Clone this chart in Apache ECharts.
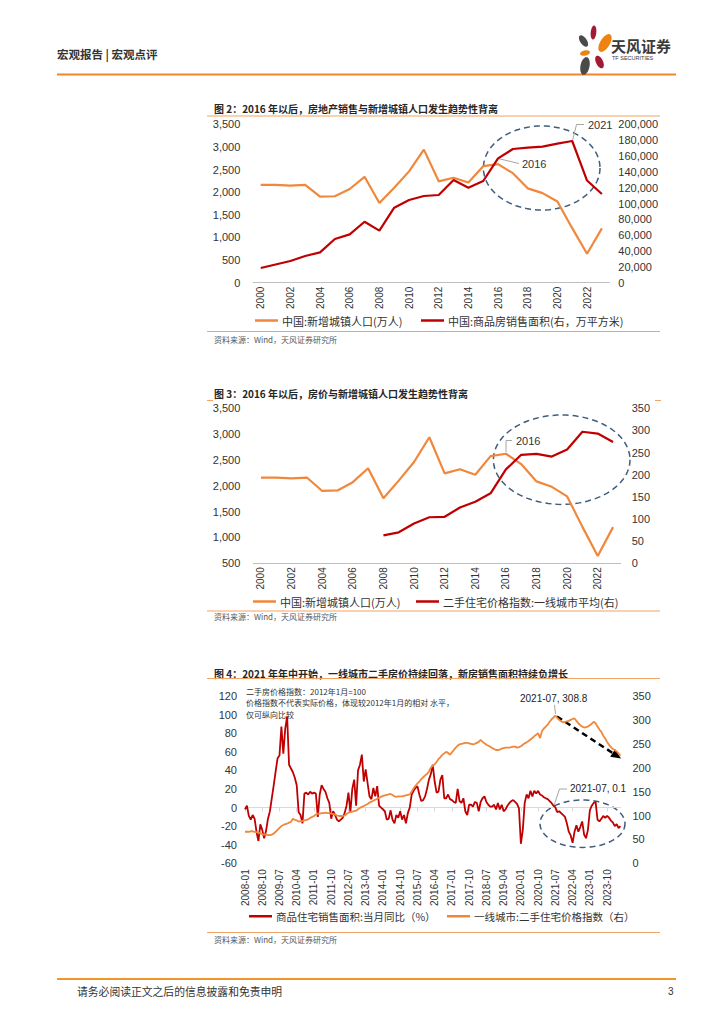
<!DOCTYPE html>
<html>
<head>
<meta charset="utf-8">
<script src="https://cdn.jsdelivr.net/npm/echarts/dist/echarts.min.js"></script>
<style>
html,body{margin:0;padding:0;background:#fff;}
#main{width:724px;height:1024px;}
</style>
</head>
<body>
<div id="main"></div>
<script>
// ---------------- DATA ----------------
const years = ['2000','2001','2002','2003','2004','2005','2006','2007','2008','2009','2010','2011',
               '2012','2013','2014','2015','2016','2017','2018','2019','2020','2021','2022','2023'];
// 中国:新增城镇人口(万人)
const newUrbanPop = [2160,2160,2145,2160,1900,1910,2070,2340,1760,2100,2460,2940,
                     2240,2320,2215,2575,2620,2420,2085,1980,1795,1205,640,1200];
// 中国:商品房销售面积(万平方米)
const salesArea = [18500,23000,27400,33700,38300,55200,61000,77000,65700,94700,104400,109500,
                   110700,129700,120000,128400,157000,168800,170500,171800,175600,178900,129000,112000];
// 二手住宅价格指数:一线城市平均 (annual)
const priceIndexAnnual = [null,null,null,null,null,null,null,null,63,70,90,104,
                          105,126,139,158,212,245,247,241,257,297,293,274];

// monthly 2008-01 .. 2024-05
const monthLabels = [];
for (let y = 2008; y <= 2024; y++) {
  for (let m = 1; m <= 12; m++) {
    if (y === 2024 && m > 5) break;
    monthLabels.push(y + '-' + (m < 10 ? '0' + m : m));
  }
}
// 商品住宅销售面积:当月同比(%)
const salesYoY = [
  -2, 2, -9, -13, -8, -12, -26, -36, -18, -24, -33, -25,      // 2008
  -12, -4, 10, 24, 39, 53, 56, 87, 58, 85, 98, 46,            // 2009
  42, 38, 32, 24, -5, -8, -17, 15, 16, 14, 17, 15,            // 2010
  16, 15, -10, 14, 24, 20, 17, 10, 5, -12, -4, -8,            // 2011
  -13, -15, -13, -11, -6, 2, 16, -5, 20, 30, 2, 40,           // 2012
  46, 57, 28, 41, 26, 12, 9, 21, 12, 23, 2, 0,                // 2013
  -2, -4, -13, -12, -3, -13, -17, -8, -11, -4, -13, -8,       // 2014
  -17, -6, 0, 14, 18, 21, 23, 14, 7, 8, 12, 20,               // 2015
  30, 36, 46, 28, 16, 17, 30, 35, 10, 10, 14, 9,              // 2016
  8, 6, 5, 20, 7, 5, 10, -4, -8, 3, 3, 1,                     // 2017
  6, 5, -4, 6, 10, 12, 6, 3, 1, 1, 3, -2,                     // 2018
  5, -2, 3, -4, -2, 2, 5, 7, 8, 6, 4, -1,                     // 2019
  -39, -24, 5, 14, 10, 18, 12, 18, 15, 18, 14, 13,            // 2020
  11, 10, 9, 7, 5, 2, 0.1, -5, -4, -6, -8, -10,               // 2021
  -17, -26, -30, -38, -26, -19, -26, -21, -15, -29, -33, -24, // 2022
  -3, 2, 5, 6, -13, -15, -12, -9, -11, -9, -11, -14,          // 2023
  -16, -20, -18, -22, -20                                     // 2024
];
// 一线城市:二手住宅价格指数 (2012-01 = 100)
const priceIndexMonthly = [
  66, 66, 66, 67, 67, 66, 65, 64, 63, 61, 60, 60,             // 2008
  59, 59, 60, 62, 66, 70, 74, 78, 80, 82, 83, 85,             // 2009
  87, 93, 91, 90, 87, 88, 89, 90, 91, 92, 95, 97,             // 2010
  99, 102, 104, 104, 105, 105, 106, 105, 105, 104, 103, 102,  // 2011
  100, 99, 99, 99, 100, 103, 106, 107, 108, 109, 110, 113,    // 2012
  116, 118, 120, 122, 124, 127, 129, 131, 133, 135, 137, 139, // 2013
  141, 142, 143, 144, 145, 143, 140, 139, 140, 140, 140, 141, // 2014
  142, 143, 144, 150, 157, 162, 167, 171, 176, 180, 184, 187, // 2015
  192, 200, 204, 207, 212, 218, 222, 227, 230, 233, 231, 227, // 2016
  232, 237, 242, 246, 249, 250, 251, 252, 252, 251, 250, 249, // 2017
  250, 252, 254, 258, 254, 251, 248, 246, 244, 241, 239, 237, // 2018
  237, 238, 240, 241, 242, 242, 242, 243, 244, 244, 242, 243, // 2019
  245, 248, 251, 253, 256, 259, 262, 266, 269, 272, 262, 276, // 2020
  282, 286, 290, 296, 301, 305, 308.8, 304, 300, 297, 295, 296, // 2021
  297, 298, 300, 302, 303, 298, 293, 289, 286, 284, 285, 286, // 2022
  289, 292, 296, 293, 286, 280, 275, 267, 261, 254, 248, 243, // 2023
  239, 237, 234, 230, 225                                     // 2024
];

const S_POP = '中国:新增城镇人口(万人)';
const S_AREA = '中国:商品房销售面积(右，万平方米)';
const S_PI = '二手住宅价格指数:一线城市平均(右)';
const S_YOY = '商品住宅销售面积:当月同比（%）';
const S_PIM = '一线城市:二手住宅价格指数（右）';

// ---------------- STYLE ----------------
const NUMF = '"Liberation Sans", Arial, "Noto Sans CJK SC", sans-serif';
const CJKF = '"Noto Sans CJK SC", "Liberation Sans", sans-serif';
const ORANGE = '#F0873A';
const RED = '#C00000';
const ELLC = '#3F5D7D';
const GRID_LINE = '#BFBFBF';
const RULE = '#F2A365';

function ellipsePts(cx, cy, rx, ry, rot) {
  const pts = [];
  const c = Math.cos(rot || 0), s = Math.sin(rot || 0);
  for (let i = 0; i < 96; i++) {
    const t = i / 96 * Math.PI * 2;
    const x = rx * Math.cos(t), y = ry * Math.sin(t);
    pts.push([cx + x * c - y * s, cy + x * s + y * c]);
  }
  return pts;
}
function txt(x, y, text, font, fill, align) {
  return { type: 'text', silent: true, style: { x: x, y: y, text: text, font: font, fill: fill || '#333',
           textAlign: align || 'left', textVerticalAlign: 'middle', align: align || 'left', verticalAlign: 'middle' } };
}
function hline(x1, x2, y, color, w) {
  return { type: 'line', silent: true, shape: { x1: x1, y1: y, x2: x2, y2: y }, style: { stroke: color, lineWidth: w || 1 } };
}
function poly(points, color, w, dash) {
  return { type: 'polyline', silent: true, shape: { points: points }, style: { stroke: color, lineWidth: w || 1, fill: null, lineDash: dash || null } };
}
function dashedEllipse(cx, cy, rx, ry) {
  return { type: 'polygon', silent: true, shape: { points: ellipsePts(cx, cy, rx, ry, 0) },
           style: { fill: null, stroke: ELLC, lineWidth: 1.5, lineDash: [6, 4] } };
}
function petal(cx, cy, rx, ry, rot, color) {
  return { type: 'polygon', silent: true, shape: { points: ellipsePts(cx, cy, rx, ry, rot) }, style: { fill: color } };
}

// arrow (chart 4)
const ax0 = [557, 716.5], ax1 = [621, 758.5];
const adx = ax1[0] - ax0[0], ady = ax1[1] - ax0[1], alen = Math.sqrt(adx * adx + ady * ady);
const aux = adx / alen, auy = ady / alen;
const abase = [ax1[0] - 10 * aux, ax1[1] - 10 * auy];
const arrowHead = [ax1, [abase[0] - 4.5 * auy, abase[1] + 4.5 * aux], [abase[0] + 4.5 * auy, abase[1] - 4.5 * aux]];

const source = '资料来源：Wind，天风证券研究所';

const graphics = [
  // header
  txt(57, 53.5, '宏观报告 | 宏观点评', 'bold 11.5px ' + CJKF, '#333'),
  hline(57, 676, 74.5, '#F0862A', 2),
  petal(593.5, 32.5, 2.8, 7, 0.1, '#A31B32'),
  petal(605, 43, 4.8, 10, 0.55, '#EE8311'),
  petal(583.5, 41, 3.3, 6.5, -0.6, '#4A4A4A'),
  petal(585, 53, 5, 2.6, -0.2, '#EE8311'),
  petal(599.5, 62, 3.5, 6.8, -0.45, '#A31B32'),
  petal(585, 66, 4.5, 9, 0.2, '#4A4A4A'),
  txt(611, 45, '天风证券', 'bold 15px ' + CJKF, '#3A3A3A'),
  txt(612, 58, 'TF SECURITIES', '5.5px ' + NUMF, '#3A3A3A'),

  // chart 2
  txt(214, 108.5, '图 2：2016 年以后，房地产销售与新增城镇人口发生趋势性背离', 'bold 10px ' + CJKF, '#262626'),
  hline(207, 660, 116, RULE, 1),
  hline(207, 660, 331.5, RULE, 1),
  txt(214, 339, source, '8px ' + CJKF, '#595959'),
  dashedEllipse(541.7, 168, 58.3, 42),
  poly([[498, 158.5], [519, 163.5]], '#A6A6A6', 1),
  txt(522, 163.5, '2016', '11px ' + NUMF, '#333'),
  poly([[572.5, 140.5], [576.5, 124.5], [584, 124.5]], '#A6A6A6', 1),
  txt(588, 124.5, '2021', '11px ' + NUMF, '#333'),

  // chart 3
  txt(214, 393.5, '图 3：2016 年以后，房价与新增城镇人口发生趋势性背离', 'bold 10px ' + CJKF, '#262626'),
  hline(207, 213, 400.5, RULE, 1),
  hline(655, 661, 400.5, RULE, 1),
  hline(207, 660, 611, RULE, 1),
  txt(214, 616.5, source, '8px ' + CJKF, '#595959'),
  dashedEllipse(561.7, 459.7, 68.3, 44.7),
  poly([[506, 452], [506, 440.5], [512, 440.5]], '#A6A6A6', 1),
  txt(516, 440.5, '2016', '11px ' + NUMF, '#333'),

  // chart 4
  txt(214, 673, '图 4：2021 年年中开始，一线城市二手房价持续回落，新房销售面积持续负增长', 'bold 10px ' + CJKF, '#262626'),
  hline(207, 660, 678.5, RULE, 1),
  hline(207, 660, 932.5, RULE, 1),
  txt(214, 939.5, source, '8px ' + CJKF, '#595959'),
  txt(246, 691, '二手房价格指数：2012年1月=100', '8px ' + CJKF, '#333'),
  txt(246, 702.5, '价格指数不代表实际价格，体现较2012年1月的相对 水平，', '8px ' + CJKF, '#333'),
  txt(246, 714, '仅可纵向比较', '8px ' + CJKF, '#333'),
  txt(520, 698.5, '2021-07, 308.8', '10px ' + NUMF, '#222'),
  poly([[554.5, 705], [555.5, 714]], '#A6A6A6', 1),
  poly([ax0, abase], '#000', 2.5, [6, 4]),
  { type: 'polygon', silent: true, shape: { points: arrowHead }, style: { fill: '#000' } },
  dashedEllipse(582.5, 823.7, 42.5, 23.7),
  poly([[553.5, 807], [559.5, 789], [567, 789]], '#A6A6A6', 1),
  txt(570, 788.5, '2021-07, 0.1', '10px ' + NUMF, '#222'),

  // footer
  hline(57, 676, 979, '#F0962A', 2),
  txt(77, 991, '请务必阅读正文之后的信息披露和免责申明', '10.8px ' + CJKF, '#333'),
  txt(668, 991, '3', '10px ' + NUMF, '#333')
];

const thousands = v => Number(v).toLocaleString('en-US');
const yBase = (grid, pos, min, max, interval, margin, fmt) => ({
  type: 'value', gridIndex: grid, position: pos, min: min, max: max, interval: interval,
  axisLine: { show: false }, axisTick: { show: false }, splitLine: { show: false },
  axisLabel: { fontSize: 11, color: '#333', fontFamily: NUMF, margin: margin, formatter: fmt || undefined }
});
const yearAxis = grid => ({
  type: 'category', gridIndex: grid, data: years, boundaryGap: true,
  axisLine: { lineStyle: { color: GRID_LINE, width: 1 } },
  axisTick: { interval: 1, length: 4, lineStyle: { color: GRID_LINE } },
  axisLabel: { interval: 1, rotate: 90, fontSize: 10, color: '#333', fontFamily: NUMF, margin: 4 }
});

const legendItem = (name, left, top, fs) => ({
  data: [name], left: left, top: top, padding: 0, icon: 'rect', itemWidth: 23, itemHeight: 2.5,
  textStyle: { fontSize: fs || 11, color: '#333', fontFamily: CJKF, padding: [0, 0, 0, -1] }, selectedMode: false
});

const option = {
  animation: false,
  backgroundColor: '#fff',
  grid: [
    { left: 253.3, top: 124.3, width: 356, height: 158.4, containLabel: false, outerBoundsMode: 'none' },
    { left: 253.3, top: 408.3, width: 367.4, height: 155, containLabel: false, outerBoundsMode: 'none' },
    { left: 245, top: 696, width: 375.5, height: 167.3, containLabel: false, outerBoundsMode: 'none' }
  ],
  legend: [
    legendItem(S_POP, 255, 315),
    legendItem(S_AREA, 421, 315),
    legendItem(S_POP, 253, 596),
    legendItem(S_PI, 416, 596),
    legendItem(S_YOY, 249, 911, 10.5),
    legendItem(S_PIM, 447, 911, 10.5)
  ],
  xAxis: [
    yearAxis(0),
    yearAxis(1),
    { type: 'category', gridIndex: 2, data: monthLabels, boundaryGap: false, position: 'bottom',
      axisLine: { onZero: true, lineStyle: { color: '#D9D9D9', width: 1 } },
      axisTick: { interval: 8, length: 4, lineStyle: { color: '#D9D9D9' } },
      axisLabel: { show: false } },
    { type: 'category', gridIndex: 2, data: monthLabels, boundaryGap: false, position: 'bottom',
      axisLine: { show: false, onZero: false }, axisTick: { show: false },
      axisLabel: { interval: 8, rotate: 90, fontSize: 10, color: '#333', fontFamily: NUMF, margin: 6 } }
  ],
  yAxis: [
    yBase(0, 'left', 0, 3500, 500, 13, thousands),
    yBase(0, 'right', 0, 200000, 20000, 9, thousands),
    yBase(1, 'left', 500, 3500, 500, 13, thousands),
    yBase(1, 'right', 0, 350, 50, 11),
    yBase(2, 'left', -60, 120, 20, 8),
    yBase(2, 'right', 0, 350, 50, 12)
  ],
  series: [
    { name: S_POP, type: 'line', xAxisIndex: 0, yAxisIndex: 0, data: newUrbanPop, color: ORANGE,
      symbol: 'none', lineStyle: { width: 2.2, color: ORANGE } },
    { name: S_AREA, type: 'line', xAxisIndex: 0, yAxisIndex: 1, data: salesArea, color: RED,
      symbol: 'none', lineStyle: { width: 2.2, color: RED } },
    { name: S_POP, type: 'line', xAxisIndex: 1, yAxisIndex: 2, data: newUrbanPop, color: ORANGE,
      symbol: 'none', lineStyle: { width: 2.2, color: ORANGE } },
    { name: S_PI, type: 'line', xAxisIndex: 1, yAxisIndex: 3, data: priceIndexAnnual, color: RED,
      symbol: 'none', lineStyle: { width: 2.2, color: RED } },
    { name: S_YOY, type: 'line', xAxisIndex: 2, yAxisIndex: 4, data: salesYoY, color: RED,
      symbol: 'none', lineStyle: { width: 1.8, color: RED } },
    { name: S_PIM, type: 'line', xAxisIndex: 2, yAxisIndex: 5, data: priceIndexMonthly, color: ORANGE,
      symbol: 'none', lineStyle: { width: 1.8, color: ORANGE } }
  ],
  graphic: { elements: graphics }
};

const chart = echarts.init(document.getElementById('main'), null, { renderer: 'svg', width: 724, height: 1024 });
chart.setOption(option);
</script>
</body>
</html>
